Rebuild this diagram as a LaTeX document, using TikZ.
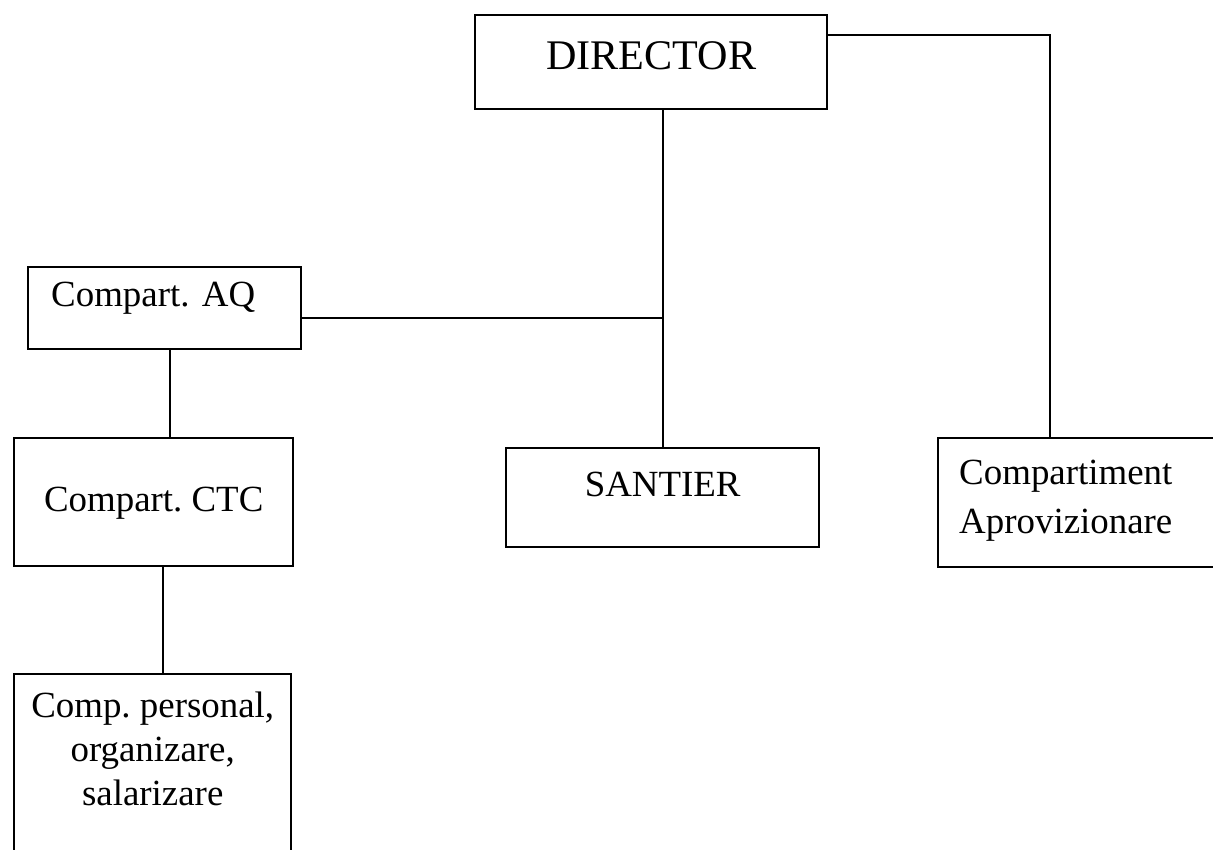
\documentclass[tikz,border=0pt]{standalone}
\usepackage{fontspec}
\setmainfont{Liberation Serif}
\frenchspacing

\begin{document}
\begin{tikzpicture}[
        x=0.02cm, y=-0.02cm, % координаты в пикселях
        box/.style = {draw, line width=1.4pt, anchor=north west, inner ysep=0pt, font=\fontsize{21}{25}\selectfont}, % Стиль рамок
        link/.style = {draw, line width=1pt},
    ]
    \useasboundingbox (0,0) rectangle (1213,849);

    \node[box, minimum width=7.04cm, text height=1.08cm, text depth=0.8cm, font=\fontsize{24}{28}\selectfont] (director) at (474,14) {DIRECTOR};
    \node[box, align=left, inner xsep=0.46cm, text width=4.54cm, text height=0.78cm, text depth=0.86cm] (aq) at (27,266) {Compart. AQ};
    \node[box, minimum width=5.58cm, text height=1.46cm, text depth=1.1cm] (ctc) at (13,437) {Compart. CTC};
    \node[box, minimum width=6.26cm, text height=0.96cm, text depth=1.02cm] (santier) at (505,447) {SANTIER};
    \node[box, align=left, inner xsep=0.42cm, text width=4.92cm, text height=0.92cm, text depth=1.66cm, font=\fontsize{21}{28}\selectfont] (aprov) at (937,437) {Compartiment\\Aprovizionare};
    \node[box, align=center, minimum width=5.54cm, text height=2.62cm, text depth=1.1cm] (personal) at (13,673) {Comp. personal,\\organizare,\\salarizare};

    \coordinate (spine) at (663,318);
    \coordinate (corner) at (1050,35);

    \draw[link] (director.south -| spine) -- (santier.north -| spine);
    \draw[link] (aq.east |- spine) -- (spine);
    \draw[link] (director.east |- corner) -- (corner) -- (corner |- aprov.north);
    \draw[link] (aq.south -| 170,0) -- (ctc.north -| 170,0);
    \draw[link] (ctc.south -| 163,0) -- (personal.north -| 163,0);

\end{tikzpicture}
\end{document}
